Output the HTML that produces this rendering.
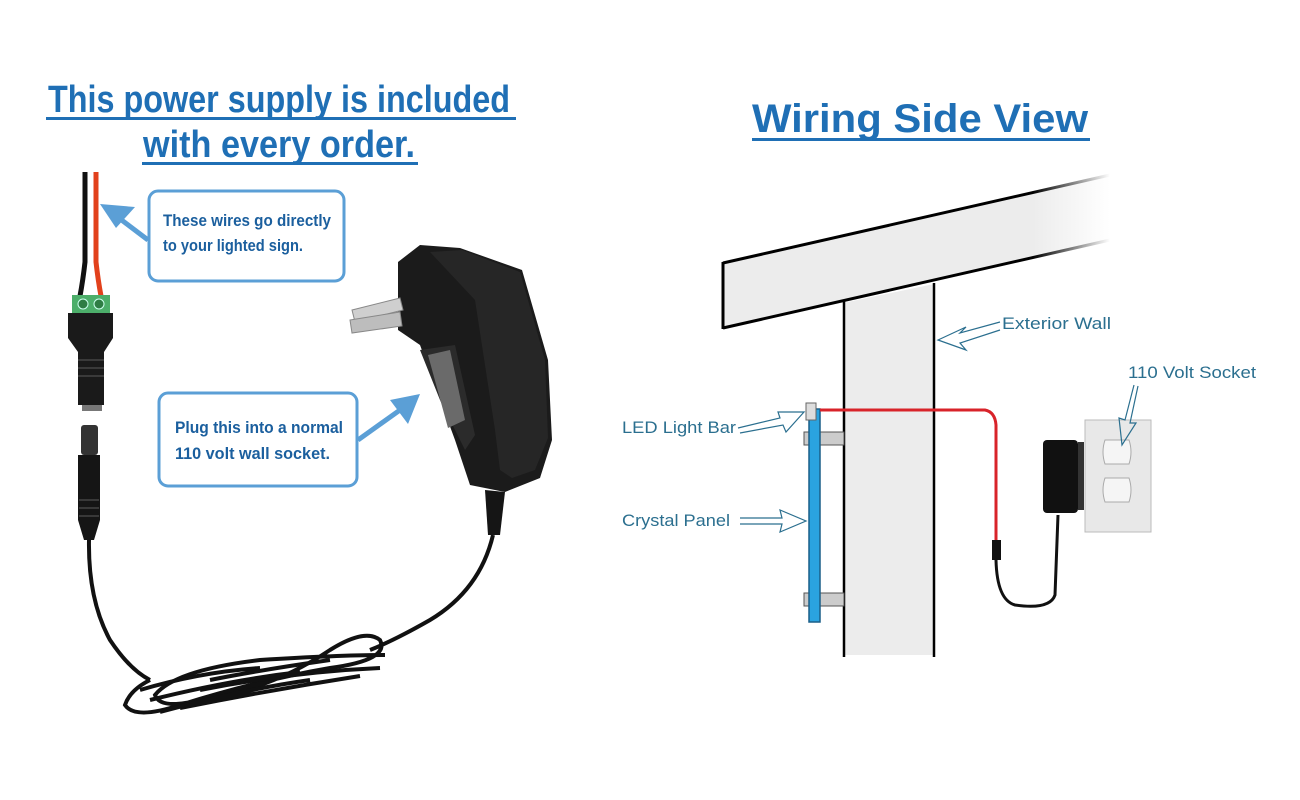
<!DOCTYPE html>
<html><head><meta charset="utf-8"><style>
html,body{margin:0;padding:0;background:#fff;width:1300px;height:800px;overflow:hidden}
svg{display:block}
.t{font-family:"Liberation Sans Narrow","Liberation Sans",sans-serif;font-weight:bold;fill:#1f6fb5}
.b{font-family:"Liberation Sans Narrow","Liberation Sans",sans-serif;font-weight:bold;fill:#1b5f9e;font-size:17px}
.l{font-family:"Liberation Sans Narrow","Liberation Sans",sans-serif;fill:#2b6f8f;font-size:17px}
</style></head><body>
<svg width="1300" height="800" viewBox="0 0 1300 800" xmlns="http://www.w3.org/2000/svg">
<defs><linearGradient id="fade" x1="0" x2="1"><stop offset="0.8" stop-color="#000"/><stop offset="1" stop-color="#000" stop-opacity="0"/></linearGradient>
<linearGradient id="fadeF" x1="0" x2="1"><stop offset="0.8" stop-color="#ececec"/><stop offset="1" stop-color="#ececec" stop-opacity="0"/></linearGradient></defs>
<!-- Titles -->
<text class="t" x="48" y="112" font-size="38" textLength="462" lengthAdjust="spacingAndGlyphs">This power supply is included</text>
<rect x="46" y="117" width="470" height="3" fill="#1f6fb5"/>
<text class="t" x="143" y="157" font-size="38" textLength="272" lengthAdjust="spacingAndGlyphs">with every order.</text>
<rect x="142" y="162" width="276" height="3" fill="#1f6fb5"/>
<text class="t" x="752" y="132" font-size="40" textLength="336" lengthAdjust="spacingAndGlyphs">Wiring Side View</text>
<rect x="752" y="138" width="338" height="3" fill="#1f6fb5"/>

<!-- Left: wires and connector -->
<path d="M85 172 L85 262 Q83 280 80 296" stroke="#111" stroke-width="5" fill="none"/>
<path d="M96 172 L96 262 Q98 280 101 296" stroke="#e2411c" stroke-width="5" fill="none"/>
<rect x="72" y="295" width="38" height="18" fill="#4cae6a"/>
<circle cx="83" cy="304" r="5" fill="#2e7d44" stroke="#cfe" stroke-width="1"/>
<circle cx="99" cy="304" r="5" fill="#2e7d44" stroke="#cfe" stroke-width="1"/>
<path d="M68 313 L113 313 L113 338 L104 352 L104 405 L78 405 L78 352 L68 338Z" fill="#1a1a1a"/>
<g stroke="#444" stroke-width="1.5"><line x1="78" y1="360" x2="104" y2="360"/><line x1="78" y1="368" x2="104" y2="368"/><line x1="78" y1="376" x2="104" y2="376"/></g>
<rect x="82" y="405" width="20" height="6" fill="#777"/>
<!-- plug -->
<rect x="81" y="425" width="17" height="30" rx="3" fill="#333"/>
<path d="M78 455 L100 455 L100 520 L94 540 L84 540 L78 520Z" fill="#151515"/>
<g stroke="#444" stroke-width="1.5"><line x1="79" y1="500" x2="99" y2="500"/><line x1="79" y1="508" x2="99" y2="508"/><line x1="79" y1="516" x2="99" y2="516"/></g>
<!-- cable -->
<g stroke="#111" stroke-width="4" fill="none">
<path d="M89 540 Q88 600 110 640 Q130 670 150 680"/>
<path d="M493 535 Q480 590 430 620 Q395 640 370 650"/>
<path d="M150 680 Q130 690 125 705 Q135 720 180 705 Q260 680 330 668 Q390 660 380 640 Q365 628 330 650 Q270 690 200 700 Q160 710 155 695 Q175 670 260 660 Q340 655 385 655"/>
<path d="M140 690 Q200 672 260 668 M160 712 Q240 690 310 680 M200 690 Q290 672 380 668 M150 700 Q230 680 300 672 M180 708 Q270 690 360 676 M210 680 Q260 670 330 660"/>
</g>
<!-- adapter -->
<path d="M398 262 L420 245 L460 248 L522 270 L548 360 L552 440 L540 478 L505 492 L470 485 L455 440 L420 345 L398 330Z" fill="#1b1b1b"/>
<path d="M430 252 L462 250 L520 272 L545 360 L548 438 L535 470 L512 478 L500 470 L495 430 L475 300Z" fill="#262626"/>
<path d="M420 350 L455 345 L475 435 L465 450 L440 400Z" fill="#2b2b2b"/>
<path d="M428 355 L450 350 L465 420 L448 428Z" fill="#6a6a6a"/>
<path d="M352 310 L400 298 L403 310 L355 322Z" fill="#cfcfcf" stroke="#888"/>
<path d="M350 320 L400 312 L402 326 L352 333Z" fill="#bdbdbd" stroke="#888"/>
<path d="M485 490 L505 492 L500 535 L488 535Z" fill="#151515"/>
<!-- callout boxes -->
<rect x="149" y="191" width="195" height="90" rx="9" fill="#fff" stroke="#5b9fd6" stroke-width="3"/>
<text class="b" x="163" y="226" textLength="168" lengthAdjust="spacingAndGlyphs">These wires go directly</text>
<text class="b" x="163" y="251" textLength="140" lengthAdjust="spacingAndGlyphs">to your lighted sign.</text>
<rect x="159" y="393" width="198" height="93" rx="9" fill="#fff" stroke="#5b9fd6" stroke-width="3"/>
<text class="b" x="175" y="433" textLength="168" lengthAdjust="spacingAndGlyphs">Plug this into a normal</text>
<text class="b" x="175" y="459" textLength="155" lengthAdjust="spacingAndGlyphs">110 volt  wall socket.</text>
<!-- callout arrows -->
<line x1="148" y1="240" x2="115" y2="215" stroke="#5b9fd6" stroke-width="5"/>
<polygon points="100,204 135,207 116,228" fill="#5b9fd6"/>
<line x1="358" y1="440" x2="400" y2="410" stroke="#5b9fd6" stroke-width="5"/>
<polygon points="420,394 390,400 408,424" fill="#5b9fd6"/>

<!-- Right: beam and wall -->
<polygon points="723,263 1110,175 1110,240 723,328" fill="url(#fadeF)"/>
<polygon points="843,303 934,284 934,655 843,655" fill="#ececec"/>
<line x1="723" y1="263" x2="1110" y2="175" stroke="url(#fade)" stroke-width="3"/>
<line x1="723" y1="328" x2="1110" y2="240" stroke="url(#fade)" stroke-width="3"/>
<line x1="723" y1="262" x2="723" y2="329" stroke="#000" stroke-width="3"/>
<line x1="844" y1="301" x2="844" y2="657" stroke="#000" stroke-width="2.5"/>
<line x1="934" y1="283" x2="934" y2="657" stroke="#000" stroke-width="2.5"/>
<!-- brackets -->
<rect x="804" y="432" width="40" height="13" fill="#ccc" stroke="#555"/>
<rect x="804" y="593" width="40" height="13" fill="#ccc" stroke="#555"/>
<!-- panel -->
<rect x="809" y="409" width="11" height="213" fill="#2aa3e0" stroke="#1a5f88" stroke-width="1.5"/>
<rect x="806" y="403" width="10" height="17" fill="#ddd" stroke="#666"/>
<!-- red wire -->
<path d="M820 410 L985 410 Q995 412 996 425 L996 540" stroke="#d8232a" stroke-width="3" fill="none"/>
<rect x="992" y="540" width="9" height="20" fill="#111"/>
<path d="M996 560 Q997 600 1015 605 Q1050 610 1055 595 L1058 515" stroke="#111" stroke-width="3" fill="none"/>
<!-- adapter & outlet -->
<rect x="1085" y="420" width="66" height="112" fill="#e8e8e8" stroke="#bbb"/>
<path d="M1105 440 q-4 12 0 24 h24 q4 -12 0 -24z" fill="#f5f5f5" stroke="#aaa"/>
<path d="M1105 478 q-4 12 0 24 h24 q4 -12 0 -24z" fill="#f5f5f5" stroke="#aaa"/>
<rect x="1043" y="440" width="35" height="73" rx="4" fill="#111"/>
<rect x="1078" y="442" width="6" height="68" fill="#333"/>
<!-- labels -->
<text class="l" x="1002" y="329" textLength="109" lengthAdjust="spacingAndGlyphs">Exterior  Wall</text>
<path d="M1000 322 L960 333 L966 327 L938 340 L966 350 L960 343 L1000 330" fill="none" stroke="#2b6f8f" stroke-width="1.2"/>
<text class="l" x="1128" y="378" textLength="128" lengthAdjust="spacingAndGlyphs">110 Volt Socket</text>
<path d="M1134 385 L1125 420 L1119 418 L1122 445 L1136 423 L1130 423 L1138 386" fill="none" stroke="#2b6f8f" stroke-width="1.2"/>
<text class="l" x="622" y="433" textLength="114" lengthAdjust="spacingAndGlyphs">LED Light Bar</text>
<path d="M738 428 L780 418 L778 412 L804 412 L786 432 L783 425 L740 433" fill="none" stroke="#2b6f8f" stroke-width="1.2"/>
<text class="l" x="622" y="526" textLength="108" lengthAdjust="spacingAndGlyphs">Crystal Panel</text>
<path d="M740 518 L782 518 L780 510 L806 521 L780 532 L782 524 L740 524" fill="none" stroke="#2b6f8f" stroke-width="1.2"/>
</svg>
</body></html>
